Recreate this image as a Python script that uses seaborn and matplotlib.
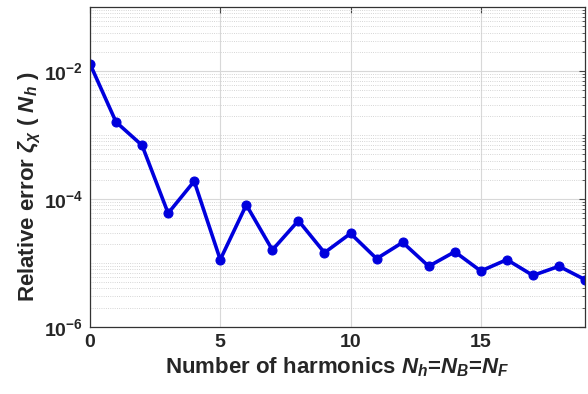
import matplotlib
matplotlib.use("Agg")
import matplotlib.pyplot as plt
import matplotlib.ticker as mticker
import seaborn as sns
import pandas as pd
import numpy as np

harmonics = list(range(20))
rel_error = [1.3e-2, 1.6e-3, 6.9e-4, 6.0e-5, 1.9e-4, 1.13e-5, 8.1e-5, 1.6e-5, 4.6e-5, 1.45e-5,
             2.9e-5, 1.17e-5, 2.1e-5, 8.9e-6, 1.5e-5, 7.5e-6, 1.13e-5, 6.4e-6, 8.9e-6, 5.5e-6]
x_ticks = [0, 5, 10, 15]
y_ticks = [1e-6, 1e-4, 1e-2]
y_tick_labels = ["10$^{-6}$", "10$^{-4}$", "10$^{-2}$"]

df = pd.DataFrame({"Nh": harmonics, "err": rel_error})

sns.set_style("white")
plt.rcParams['font.family'] = ['Liberation Sans', 'DejaVu Sans']
plt.rcParams['font.weight'] = 'bold'
plt.rcParams['mathtext.fontset'] = 'custom'
plt.rcParams['mathtext.rm'] = 'Liberation Sans:bold'
plt.rcParams['mathtext.it'] = 'Liberation Sans:italic:bold'
plt.rcParams['mathtext.bf'] = 'Liberation Sans:bold'

fig = plt.figure(figsize=(5.88, 3.94), dpi=100)
ax = fig.add_axes([0.153, 0.170, 0.842, 0.812])

sns.lineplot(data=df, x="Nh", y="err", ax=ax, color='#0000dd', linewidth=2.6,
             marker='o', markersize=6.5, markeredgecolor='#0000dd', markerfacecolor='#0000dd')

ax.set_yscale('log')
ax.set_xlim(0, 19)
ax.set_ylim(1e-6, 1e-1)
ax.set_xticks(x_ticks)
ax.set_xticklabels([str(t) for t in x_ticks], fontsize=14, fontweight='bold')
ax.set_yticks(y_ticks)
ax.set_yticklabels(y_tick_labels, fontsize=14, fontweight='bold')
ax.yaxis.set_minor_locator(mticker.LogLocator(base=10, subs=np.arange(1, 10), numticks=30))
ax.yaxis.set_minor_formatter(mticker.NullFormatter())

ax.grid(True, which='major', axis='both', color='#d8d8d8', linewidth=0.8, linestyle='-')
ax.grid(True, which='minor', axis='y', color='#c8c8c8', linewidth=0.6, linestyle=':')
ax.tick_params(which='both', direction='in', top=True, right=True, color='#444444')
ax.tick_params(which='major', length=4, width=0.8, pad=5)
ax.tick_params(which='minor', length=2, width=0.6)
for s in ax.spines.values():
    s.set_color('#333333')
    s.set_linewidth(0.9)
    s.set_visible(True)

ax.set_xlabel("Number of harmonics $N_h$=$N_B$=$N_F$", fontsize=16, fontweight='bold', labelpad=3)
ax.set_ylabel(r"Relative error $\zeta_{\chi}$ ( $N_h$ )", fontsize=16, fontweight='bold')
ax.yaxis.set_label_coords(-0.094, 0.44)

fig.savefig("out.png", dpi=100)
